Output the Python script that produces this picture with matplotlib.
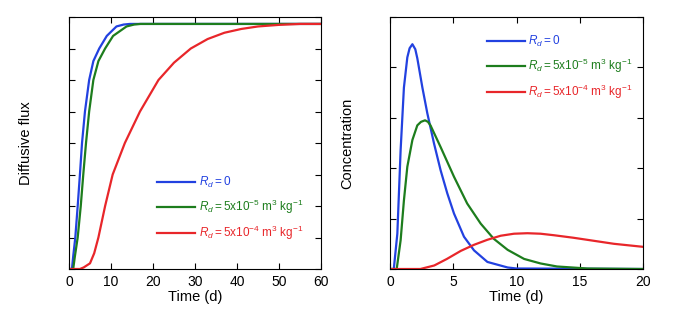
import matplotlib
import numpy as np
import matplotlib.pyplot as plt

matplotlib.rc('font', family='Liberation Sans', size=10)
matplotlib.rc('mathtext', fontset='custom', rm='Liberation Sans',
              it='Liberation Sans:italic', bf='Liberation Sans:bold')

# diffusive flux (left panel)
flux_t_0 = [0, 0.7, 1.0, 1.5, 2.07, 2.6, 3.1, 3.8, 4.8, 5.8, 7.2, 9.0, 11.3, 13.0, 14.5, 20, 60]
flux_0 = [0, 0, 0.4, 1.0, 2.0, 3.0, 4.0, 5.0, 6.0, 6.6, 7.0, 7.4, 7.7, 7.76, 7.78, 7.78, 7.78]
flux_t_5 = [0, 1.0, 1.4, 2.07, 2.8, 3.4, 4.05, 4.8, 5.8, 7.0, 8.6, 10.5, 13.7, 15.5, 17.0, 60]
flux_5 = [0, 0, 0.4, 1.0, 2.0, 3.0, 4.0, 5.0, 6.0, 6.6, 7.0, 7.4, 7.7, 7.76, 7.78, 7.78]
flux_t_4 = [0, 2.6, 3.5, 5.0, 6.0, 7.0, 8.6, 10.4, 13.3, 16.9, 21.3, 25.0, 29.0, 33.0, 37.0, 41.0, 45.0, 50.0, 55.0, 60.0]
flux_4 = [0, 0, 0.05, 0.18, 0.5, 1.0, 2.0, 3.0, 4.0, 5.0, 6.0, 6.55, 7.0, 7.3, 7.5, 7.62, 7.7, 7.75, 7.78, 7.78]

# concentration (right panel)
conc_t_0 = [0, 0.3, 0.58, 0.84, 1.1, 1.37, 1.55, 1.77, 2.0, 2.16, 2.56, 2.95, 3.48, 4.0, 4.53, 5.06, 5.85, 6.64, 7.7, 9.3, 10.0, 20.0]
conc_0 = [0, 0, 0.7, 2.36, 3.6, 4.2, 4.38, 4.46, 4.36, 4.18, 3.6, 3.09, 2.49, 1.96, 1.5, 1.1, 0.64, 0.37, 0.14, 0.03, 0.01, 0]
conc_t_5 = [0, 0.53, 0.84, 1.1, 1.37, 1.77, 2.16, 2.45, 2.77, 3.0, 3.2, 4.0, 5.06, 6.1, 7.17, 8.2, 9.3, 10.6, 11.9, 13.2, 15.6, 20.0]
conc_5 = [0, 0, 0.57, 1.36, 2.03, 2.56, 2.85, 2.92, 2.95, 2.92, 2.85, 2.42, 1.83, 1.3, 0.9, 0.6, 0.38, 0.2, 0.11, 0.05, 0.01, 0]
conc_t_4 = [0, 2.4, 3.5, 4.5, 5.6, 6.64, 7.7, 8.75, 9.8, 10.86, 11.9, 12.96, 14.5, 16.1, 17.7, 20.0]
conc_4 = [0, 0, 0.07, 0.2, 0.36, 0.48, 0.58, 0.66, 0.7, 0.71, 0.7, 0.67, 0.62, 0.56, 0.5, 0.44]

labels = [r'$R_d = 0$',
          r'$R_d = 5$x10$^{-5}$ m$^3$ kg$^{-1}$',
          r'$R_d = 5$x10$^{-4}$ m$^3$ kg$^{-1}$']
colors = ['#2241e0', '#1d7d1d', '#e8262a']

fig = plt.figure(figsize=(6.82, 3.22), dpi=100)
ax1 = fig.add_axes([69/682, 53/322, 252/682, 252/322])
ax2 = fig.add_axes([390/682, 53/322, 253/682, 252/322])

for t, y, c, lab in zip([flux_t_0, flux_t_5, flux_t_4], [flux_0, flux_5, flux_4], colors, labels):
    ax1.plot(t, y, color=c, lw=1.6, label=lab)
for t, y, c, lab in zip([conc_t_0, conc_t_5, conc_t_4], [conc_0, conc_5, conc_4], colors, labels):
    ax2.plot(t, y, color=c, lw=1.6, label=lab)

ax1.set_xlim(0, 60)
ax1.set_ylim(0, 8)
ax1.set_xticks(np.arange(0, 61, 10))
ax1.set_yticks(np.arange(0, 9, 1))
ax1.set_ylabel("Diffusive flux", fontsize=10.5)

ax2.set_xlim(0, 20)
ax2.set_ylim(0, 5)
ax2.set_xticks(np.arange(0, 21, 5))
ax2.set_yticks(np.arange(0, 6, 1))
ax2.set_ylabel("Concentration", fontsize=10.5)

for ax in (ax1, ax2):
    ax.set_xlabel("Time (d)", fontsize=10.5, labelpad=1)
    ax.yaxis.set_label_coords(-0.143, 0.5)
    ax.tick_params(direction='in', top=True, right=True, length=4, labelleft=False, pad=4)
    for s in ax.spines.values():
        s.set_linewidth(0.8)

leg1 = ax1.legend(loc='lower left', bbox_to_anchor=(0.308, 0.065), frameon=False,
                  handlelength=3.2, handletextpad=0.3, labelspacing=0.65, fontsize=8.5)
leg2 = ax2.legend(loc='upper left', bbox_to_anchor=(0.342, 0.975), frameon=False,
                  handlelength=3.2, handletextpad=0.3, labelspacing=0.65, fontsize=8.5)
for leg in (leg1, leg2):
    for txt, c in zip(leg.get_texts(), colors):
        txt.set_color(c)

plt.savefig("out.png", dpi=100)
